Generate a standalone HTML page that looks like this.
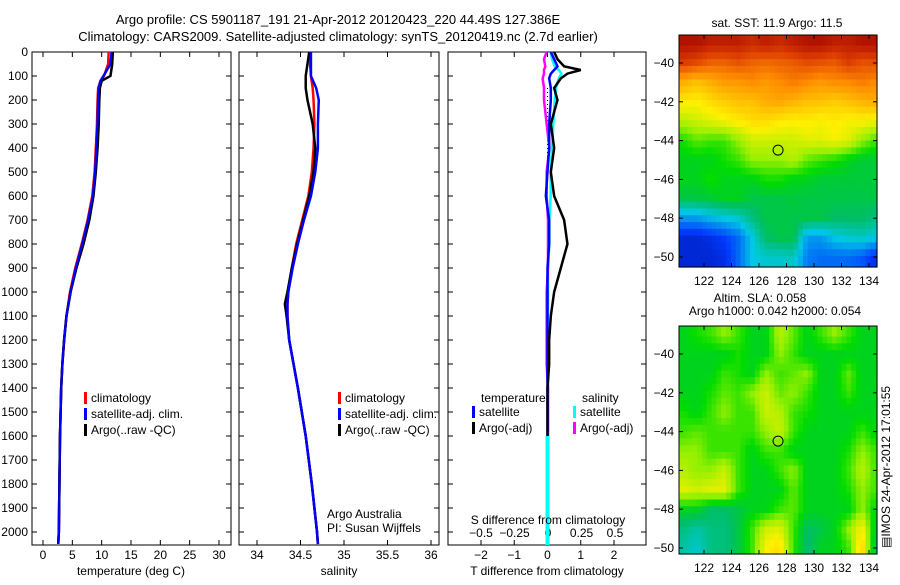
<!DOCTYPE html>
<html><head><meta charset="utf-8"><style>
body{margin:0;background:#fff;}
svg text{font-family:"Liberation Sans",sans-serif;font-size:12px;fill:#000;}
</style></head><body>
<svg id="c" width="900" height="580" xmlns="http://www.w3.org/2000/svg">
<text x="338" y="24" text-anchor="middle" style="font-size:13px">Argo profile: CS 5901187_191 21-Apr-2012 20120423_220 44.49S 127.386E</text>
<text x="338" y="41" text-anchor="middle" style="font-size:13px">Climatology: CARS2009. Satellite-adjusted climatology: synTS_20120419.nc (2.7d earlier)</text>
<g id="g"></g>
</svg>
<script>
// ---- data ----
const depthTicks=[0,100,200,300,400,500,600,700,800,900,1000,1100,1200,1300,1400,1500,1600,1700,1800,1900,2000];
const tDepth=[0,50,100,120,150,200,300,400,500,600,700,800,900,1000,1100,1200,1300,1400,1600,1800,2000,2050];
const tClim=[11.2,11.1,10.4,9.8,9.4,9.3,9.2,9.0,8.8,8.4,7.6,6.6,5.5,4.6,4.0,3.6,3.3,3.1,2.9,2.8,2.7,2.6];
const tSat=[11.7,11.5,10.3,9.8,9.5,9.4,9.3,9.1,8.9,8.5,7.7,6.7,5.6,4.7,4.0,3.6,3.3,3.1,2.9,2.8,2.7,2.6];
const tArgo=[11.9,11.8,11.5,10.0,9.7,9.6,9.5,9.3,9.0,8.6,7.9,6.9,5.7,4.7,4.0,3.6,3.3,3.1,2.9,2.8,2.7,2.6];
const sDepth=[0,50,100,150,200,300,400,500,600,700,800,900,1000,1050,1100,1200,1300,1400,1600,1800,2000,2050];
const sClim=[34.61,34.61,34.62,34.64,34.65,34.66,34.65,34.63,34.59,34.52,34.45,34.40,34.36,34.35,34.35,34.37,34.42,34.47,34.56,34.63,34.69,34.70];
const sSat=[34.62,34.62,34.62,34.68,34.71,34.70,34.70,34.67,34.62,34.54,34.47,34.41,34.36,34.35,34.35,34.37,34.42,34.47,34.56,34.63,34.69,34.70];
const sArgo=[34.60,34.58,34.56,34.56,34.58,34.64,34.67,34.65,34.60,34.53,34.46,34.40,34.35,34.32,34.34,34.37,34.42,34.47,34.56,34.63,34.69,34.70];
const dDepth=[0,30,60,75,90,110,150,200,300,400,500,600,700,800,900,1000,1100,1200,1300,1400,1500,1600];
const dTsat=[0.1,0.2,0.3,0.2,0.1,0.05,0.1,0.1,0.05,0.05,0.0,-0.05,0.05,0.05,0.0,0.0,0.0,0.0,0.0,0.0,0.0,0.0];
const dTargo=[0.2,0.3,0.5,1.0,0.6,0.4,0.2,0.3,0.1,0.2,0.1,0.2,0.5,0.6,0.4,0.2,0.1,0.05,0.05,0.0,0.0,0.0];
const dSsat=[0.02,0.03,0.05,0.08,0.1,0.08,0.06,0.05,0.04,0.03,0.02,0.02,0.01,0.01,0.0,0.0,0.0,0.0,0.0,0.0,0.0,0.0];
const dSargo=[-0.01,-0.03,-0.02,-0.03,-0.03,-0.04,-0.03,-0.03,-0.01,0.01,-0.01,-0.01,0.0,0.0,0.0,-0.01,-0.01,-0.01,-0.01,0.0,0.0,0.0];
const lonTicks=[122,124,126,128,130,132,134];
const latTicks=[-40,-42,-44,-46,-48,-50];
const mapLats=[-39,-40,-41,-42,-43,-44,-45,-46,-47,-48,-49,-50];
const mapLons=[120.5,121.5,122.5,123.5,124.5,125.5,126.5,127.5,128.5,129.5,130.5,131.5,132.5,133.5,134.5];
const sstGrid=[
[.97,.97,.95,.95,.95,.93,.95,.93,.95,.97,.97,.95,.95,.97,.97],
[.9,.88,.85,.85,.87,.85,.84,.85,.86,.88,.87,.86,.9,.87,.88],
[.75,.72,.75,.78,.78,.8,.78,.8,.82,.8,.78,.8,.8,.82,.8],
[.66,.65,.68,.7,.72,.72,.75,.76,.74,.72,.72,.7,.72,.74,.75],
[.58,.6,.62,.64,.66,.68,.68,.66,.65,.66,.64,.66,.64,.65,.63],
[.48,.52,.5,.5,.55,.6,.6,.6,.6,.62,.62,.64,.62,.55,.5],
[.45,.45,.45,.48,.5,.55,.55,.55,.58,.52,.5,.48,.45,.43,.43],
[.45,.45,.48,.45,.45,.45,.48,.48,.45,.45,.43,.43,.43,.43,.43],
[.42,.42,.43,.45,.45,.42,.42,.42,.43,.42,.42,.42,.42,.42,.42],
[.25,.25,.28,.3,.32,.38,.42,.42,.42,.42,.42,.4,.4,.4,.38],
[.1,.1,.12,.15,.2,.3,.4,.42,.42,.25,.25,.3,.32,.33,.3],
[.1,.1,.1,.12,.2,.3,.32,.32,.33,.22,.2,.2,.2,.18,.12]];
const slaGrid=[
[.45,.48,.5,.55,.5,.45,.45,.58,.52,.45,.5,.55,.5,.45,.45],
[.45,.45,.45,.45,.48,.45,.45,.55,.5,.45,.45,.45,.45,.45,.45],
[.45,.45,.45,.5,.48,.45,.55,.5,.52,.55,.45,.45,.52,.45,.45],
[.45,.45,.48,.52,.5,.55,.6,.52,.55,.5,.45,.45,.5,.45,.45],
[.48,.45,.5,.55,.5,.5,.6,.58,.5,.48,.45,.45,.45,.45,.45],
[.5,.52,.5,.5,.5,.5,.55,.6,.5,.45,.45,.45,.45,.5,.45],
[.55,.55,.5,.5,.5,.45,.5,.5,.45,.45,.45,.45,.48,.55,.5],
[.58,.55,.55,.6,.5,.45,.45,.5,.55,.45,.45,.45,.5,.58,.5],
[.62,.6,.62,.62,.5,.45,.45,.45,.52,.45,.45,.45,.48,.55,.5],
[.45,.45,.4,.4,.42,.45,.45,.5,.52,.45,.45,.45,.45,.55,.45],
[.38,.35,.38,.38,.42,.5,.6,.62,.5,.4,.42,.45,.55,.65,.42],
[.35,.32,.38,.38,.42,.5,.65,.68,.5,.38,.45,.45,.5,.7,.38]];
// ---- helpers ----
const NS="http://www.w3.org/2000/svg",G=document.getElementById('g');
function el(t,a,p){const e=document.createElementNS(NS,t);for(const k in a)e.setAttribute(k,a[k]);(p||G).appendChild(e);return e;}
function txt(x,y,s,anc,p){const e=el('text',{x:x,y:y,'text-anchor':anc||'start'},p);e.textContent=s;return e;}
const Y0=52,Y1=532,FB=545;const yD=d=>Y0+(Y1-Y0)*d/2000;
function lin(a,b,pa,pb){return v=>pa+(v-a)*(pb-pa)/(b-a);}
function frame(x0,x1,name){const r=el('rect',{x:x0,y:Y0,width:x1-x0,height:FB-Y0,fill:'none',stroke:'#000'});

depthTicks.forEach(d=>{el('line',{x1:x0,x2:x0+5,y1:yD(d),y2:yD(d),stroke:'#000'});el('line',{x1:x1-5,x2:x1,y1:yD(d),y2:yD(d),stroke:'#000'});});}
function line(xs,ds,fx,col,name,w){const p=el('polyline',{points:xs.map((v,i)=>fx(v)+','+yD(ds[i])).join(' '),fill:'none',stroke:col,'stroke-width':w||2.5});
}
function xticks(ticks,fx,y,lab){ticks.forEach((t,i)=>{const x=fx(t);el('line',{x1:x,x2:x,y1:FB,y2:FB-5,stroke:'#000'});el('line',{x1:x,x2:x,y1:Y0,y2:Y0+5,stroke:'#000'});
const e=txt(x,y,lab?lab[i]:String(t),'middle');});}
function legend(x,y,items){items.forEach((it,i)=>{el('rect',{x:x,y:y+i*16-10,width:3,height:12,fill:it[1]});const e=txt(x+7,y+i*16,it[0]);});}
depthTicks.forEach(d=>{const e=txt(28,yD(d)+4,String(d),'end');});
// panel 1
const fT=lin(0,30,43,219);frame(32,231,'temperature-panel');
xticks([0,5,10,15,20,25,30],fT,559);
line(tClim,tDepth,fT,'#f00','temp-climatology-line');line(tSat,tDepth,fT,'#00f','temp-satellite-line');line(tArgo,tDepth,fT,'#000','temp-argo-line');
line(tSat,tDepth,fT,'#00f','temp-satellite-line-top',2);
txt(131,575,'temperature (deg C)','middle');
legend(84,402,[['climatology','#f00'],['satellite-adj. clim.','#00f'],['Argo(..raw -QC)','#000']]);
// panel 2
const fS=lin(34,36,257,431);frame(239,439,'salinity-panel');
xticks([34,34.5,35,35.5,36],fS,559,['34','34.5','35','35.5','36']);
line(sClim,sDepth,fS,'#f00','sal-climatology-line');line(sArgo,sDepth,fS,'#000','sal-argo-line');line(sSat,sDepth,fS,'#00f','sal-satellite-line');
txt(339,575,'salinity','middle');
legend(338,402,[['climatology','#f00'],['satellite-adj. clim.','#00f'],['Argo(..raw -QC)','#000']]);
txt(327,518,'Argo Australia');txt(327,532,'PI: Susan Wijffels');
// panel 3
const fD=lin(-2,2,481,614),fSS=lin(-0.5,0.5,481,615);frame(448,646,'difference-panel');
xticks([-2,-1,0,1,2],fD,559,['\u22122','\u22121','0','1','2']);
[-0.5,-0.25,0,0.25,0.5].forEach(v=>txt(fSS(v),537,String(v).replace('-','\u2212'),'middle'));
el('line',{x1:fD(0),x2:fD(0),y1:yD(150),y2:yD(1000),stroke:'#000','stroke-dasharray':'1,3'});
line(dSsat,dDepth,fSS,'#0ff','sal-diff-satellite-line');line(dSargo,dDepth,fSS,'#f0f','sal-diff-argo-line');
line(dTsat,dDepth,fD,'#00f','temp-diff-satellite-line');line(dTargo,dDepth,fD,'#000','temp-diff-argo-line');
el('rect',{x:fD(0)-2,y:yD(1600),width:4,height:FB-yD(1600),fill:'#0ff'});
txt(548,524,'S difference from climatology','middle');
txt(547,575,'T difference from climatology','middle');
txt(481,402,'temperature');txt(582,402,'salinity');
legend(472,416,[['satellite','#00f'],['Argo(-adj)','#000']]);
legend(573,416,[['satellite','#0ff'],['Argo(-adj)','#f0f']]);
// maps
const cmStops=[[0,0,0,130],[0.15,0,60,255],[0.3,0,200,230],[0.4,0,190,100],[0.47,0,220,0],[0.55,150,240,0],[0.65,255,240,0],[0.8,255,140,0],[0.9,220,60,0],[1,160,0,0]];
function cmap(v){v=Math.max(0,Math.min(1,v));for(let i=1;i<cmStops.length;i++){const a=cmStops[i-1],b=cmStops[i];if(v<=b[0]){const t=(v-a[0])/(b[0]-a[0]);
return `rgb(${Math.round(a[1]+(b[1]-a[1])*t)},${Math.round(a[2]+(b[2]-a[2])*t)},${Math.round(a[3]+(b[3]-a[3])*t)})`;}}return 'rgb(160,0,0)';}
function sample(grid,lo,la){
let fi=(mapLats[0]-la),fj=(lo-mapLons[0]);fi=Math.max(0,Math.min(mapLats.length-1,fi));fj=Math.max(0,Math.min(mapLons.length-1,fj));
const i0=Math.floor(fi),j0=Math.floor(fj),i1=Math.min(i0+1,mapLats.length-1),j1=Math.min(j0+1,mapLons.length-1),a=fi-i0,b=fj-j0;
return grid[i0][j0]*(1-a)*(1-b)+grid[i1][j0]*a*(1-b)+grid[i0][j1]*(1-a)*b+grid[i1][j1]*a*b;}
function map(y0,y1,lat40,grid,name){const fx=lin(122,134,704,869),fy=lin(-40,-50,lat40,lat40+194);
const g=el('g',{});
const st=0.35;
for(let la=-38.4;la>-50.8;la-=st){for(let lo=120.1;lo<134.8;lo+=st){
const x=fx(lo),y=fy(la),w=fx(lo+st)-x,h=fy(la-st)-y;
const ya=Math.max(y0,y),yb=Math.min(y1,y+h),xa=Math.max(679,x),xb=Math.min(877,x+w);
if(yb>ya&&xb>xa)el('rect',{x:xa,y:ya,width:xb-xa+0.6,height:yb-ya+0.6,fill:cmap(sample(grid,lo+st/2,la-st/2))},g);}}
el('rect',{x:679,y:y0,width:198,height:y1-y0,fill:'none',stroke:'#000'});
latTicks.forEach(l=>{el('line',{x1:679,x2:683,y1:fy(l),y2:fy(l),stroke:'#000'});el('line',{x1:873,x2:877,y1:fy(l),y2:fy(l),stroke:'#000'});txt(674,fy(l)+4,String(l).replace('-','\u2212'),'end');});
lonTicks.forEach(l=>{el('line',{x1:fx(l),x2:fx(l),y1:y1,y2:y1-4,stroke:'#000'});el('line',{x1:fx(l),x2:fx(l),y1:y0,y2:y0+4,stroke:'#000'});txt(fx(l),y1+18,String(l),'middle');});
const c=el('circle',{cx:fx(127.386),cy:fy(-44.49),r:5,fill:'none',stroke:'#000'});}
map(35,267,63,sstGrid,'sst-map');
map(326,554,354,slaGrid,'sla-map');
txt(777,27,'sat. SST: 11.9  Argo: 11.5','middle');
txt(760,302,'Altim. SLA: 0.058','middle');txt(775,315,'Argo h1000: 0.042 h2000: 0.054','middle');
const r=txt(0,0,'\u25A4IMOS 24-Apr-2012 17:01:55','start');r.setAttribute('transform','translate(890,548) rotate(-90)');

</script>
</body></html>
